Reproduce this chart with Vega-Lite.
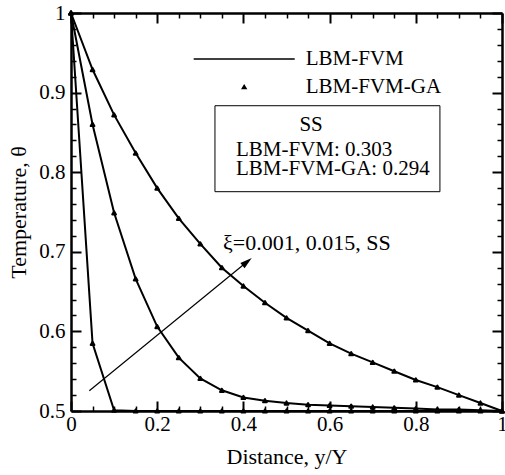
{
  "$schema": "https://vega.github.io/schema/vega-lite/v6.json",
  "width": 431,
  "height": 398,
  "autosize": {"type": "none"},
  "padding": {"left": 71, "top": 13, "right": 3, "bottom": 64},
  "config": {
    "font": "Liberation Serif",
    "view": {"stroke": null},
    "axis": {
      "grid": false,
      "labelFont": "Liberation Serif",
      "labelFontSize": 21,
      "labelColor": "black",
      "titleFont": "Liberation Serif",
      "titleFontSize": 22,
      "titleFontWeight": "normal",
      "titleColor": "black",
      "domainColor": "black",
      "tickColor": "black",
      "labelFlush": false,
      "labelOverlap": false,
      "labelBound": false
    }
  },
  "data": {
    "values": [
      {"xi": "0.001", "d": 0.0, "LBM-FVM": 1.0, "LBM-FVM-GA": 1.0},
      {"xi": "0.001", "d": 0.05, "LBM-FVM": 0.585, "LBM-FVM-GA": 0.585},
      {"xi": "0.001", "d": 0.1, "LBM-FVM": 0.501, "LBM-FVM-GA": 0.501},
      {"xi": "0.001", "d": 0.15, "LBM-FVM": 0.5, "LBM-FVM-GA": 0.5},
      {"xi": "0.001", "d": 0.2, "LBM-FVM": 0.5, "LBM-FVM-GA": 0.5},
      {"xi": "0.001", "d": 0.25, "LBM-FVM": 0.5, "LBM-FVM-GA": 0.5},
      {"xi": "0.001", "d": 0.3, "LBM-FVM": 0.5, "LBM-FVM-GA": 0.5},
      {"xi": "0.001", "d": 0.35, "LBM-FVM": 0.5, "LBM-FVM-GA": 0.5},
      {"xi": "0.001", "d": 0.4, "LBM-FVM": 0.5, "LBM-FVM-GA": 0.5},
      {"xi": "0.001", "d": 0.45, "LBM-FVM": 0.5, "LBM-FVM-GA": 0.5},
      {"xi": "0.001", "d": 0.5, "LBM-FVM": 0.5, "LBM-FVM-GA": 0.5},
      {"xi": "0.001", "d": 0.55, "LBM-FVM": 0.5, "LBM-FVM-GA": 0.5},
      {"xi": "0.001", "d": 0.6, "LBM-FVM": 0.5, "LBM-FVM-GA": 0.5},
      {"xi": "0.001", "d": 0.65, "LBM-FVM": 0.5, "LBM-FVM-GA": 0.5},
      {"xi": "0.001", "d": 0.7, "LBM-FVM": 0.5, "LBM-FVM-GA": 0.5},
      {"xi": "0.001", "d": 0.75, "LBM-FVM": 0.5, "LBM-FVM-GA": 0.5},
      {"xi": "0.001", "d": 0.8, "LBM-FVM": 0.5, "LBM-FVM-GA": 0.5},
      {"xi": "0.001", "d": 0.85, "LBM-FVM": 0.5, "LBM-FVM-GA": 0.5},
      {"xi": "0.001", "d": 0.9, "LBM-FVM": 0.5, "LBM-FVM-GA": 0.5},
      {"xi": "0.001", "d": 0.95, "LBM-FVM": 0.5, "LBM-FVM-GA": 0.5},
      {"xi": "0.001", "d": 1.0, "LBM-FVM": 0.5, "LBM-FVM-GA": 0.5},
      {"xi": "0.015", "d": 0.0, "LBM-FVM": 1.0, "LBM-FVM-GA": 1.0},
      {"xi": "0.015", "d": 0.05, "LBM-FVM": 0.86, "LBM-FVM-GA": 0.86},
      {"xi": "0.015", "d": 0.1, "LBM-FVM": 0.749, "LBM-FVM-GA": 0.749},
      {"xi": "0.015", "d": 0.15, "LBM-FVM": 0.666, "LBM-FVM-GA": 0.666},
      {"xi": "0.015", "d": 0.2, "LBM-FVM": 0.606, "LBM-FVM-GA": 0.606},
      {"xi": "0.015", "d": 0.25, "LBM-FVM": 0.567, "LBM-FVM-GA": 0.567},
      {"xi": "0.015", "d": 0.3, "LBM-FVM": 0.541, "LBM-FVM-GA": 0.541},
      {"xi": "0.015", "d": 0.35, "LBM-FVM": 0.526, "LBM-FVM-GA": 0.526},
      {"xi": "0.015", "d": 0.4, "LBM-FVM": 0.517, "LBM-FVM-GA": 0.517},
      {"xi": "0.015", "d": 0.45, "LBM-FVM": 0.513, "LBM-FVM-GA": 0.513},
      {"xi": "0.015", "d": 0.5, "LBM-FVM": 0.51, "LBM-FVM-GA": 0.51},
      {"xi": "0.015", "d": 0.55, "LBM-FVM": 0.508, "LBM-FVM-GA": 0.508},
      {"xi": "0.015", "d": 0.6, "LBM-FVM": 0.507, "LBM-FVM-GA": 0.507},
      {"xi": "0.015", "d": 0.65, "LBM-FVM": 0.506, "LBM-FVM-GA": 0.506},
      {"xi": "0.015", "d": 0.7, "LBM-FVM": 0.505, "LBM-FVM-GA": 0.505},
      {"xi": "0.015", "d": 0.75, "LBM-FVM": 0.504, "LBM-FVM-GA": 0.504},
      {"xi": "0.015", "d": 0.8, "LBM-FVM": 0.503, "LBM-FVM-GA": 0.503},
      {"xi": "0.015", "d": 0.85, "LBM-FVM": 0.502, "LBM-FVM-GA": 0.502},
      {"xi": "0.015", "d": 0.9, "LBM-FVM": 0.502, "LBM-FVM-GA": 0.502},
      {"xi": "0.015", "d": 0.95, "LBM-FVM": 0.501, "LBM-FVM-GA": 0.501},
      {"xi": "0.015", "d": 1.0, "LBM-FVM": 0.5, "LBM-FVM-GA": 0.5},
      {"xi": "SS", "d": 0.0, "LBM-FVM": 1.0, "LBM-FVM-GA": 1.0},
      {"xi": "SS", "d": 0.05, "LBM-FVM": 0.929, "LBM-FVM-GA": 0.929},
      {"xi": "SS", "d": 0.1, "LBM-FVM": 0.872, "LBM-FVM-GA": 0.872},
      {"xi": "SS", "d": 0.15, "LBM-FVM": 0.824, "LBM-FVM-GA": 0.824},
      {"xi": "SS", "d": 0.2, "LBM-FVM": 0.78, "LBM-FVM-GA": 0.78},
      {"xi": "SS", "d": 0.25, "LBM-FVM": 0.742, "LBM-FVM-GA": 0.742},
      {"xi": "SS", "d": 0.3, "LBM-FVM": 0.71, "LBM-FVM-GA": 0.71},
      {"xi": "SS", "d": 0.35, "LBM-FVM": 0.68, "LBM-FVM-GA": 0.68},
      {"xi": "SS", "d": 0.4, "LBM-FVM": 0.657, "LBM-FVM-GA": 0.657},
      {"xi": "SS", "d": 0.45, "LBM-FVM": 0.636, "LBM-FVM-GA": 0.636},
      {"xi": "SS", "d": 0.5, "LBM-FVM": 0.617, "LBM-FVM-GA": 0.617},
      {"xi": "SS", "d": 0.55, "LBM-FVM": 0.601, "LBM-FVM-GA": 0.601},
      {"xi": "SS", "d": 0.6, "LBM-FVM": 0.585, "LBM-FVM-GA": 0.585},
      {"xi": "SS", "d": 0.65, "LBM-FVM": 0.572, "LBM-FVM-GA": 0.572},
      {"xi": "SS", "d": 0.7, "LBM-FVM": 0.561, "LBM-FVM-GA": 0.561},
      {"xi": "SS", "d": 0.75, "LBM-FVM": 0.55, "LBM-FVM-GA": 0.55},
      {"xi": "SS", "d": 0.8, "LBM-FVM": 0.539, "LBM-FVM-GA": 0.539},
      {"xi": "SS", "d": 0.85, "LBM-FVM": 0.53, "LBM-FVM-GA": 0.53},
      {"xi": "SS", "d": 0.9, "LBM-FVM": 0.52, "LBM-FVM-GA": 0.52},
      {"xi": "SS", "d": 0.95, "LBM-FVM": 0.51, "LBM-FVM-GA": 0.51},
      {"xi": "SS", "d": 1.0, "LBM-FVM": 0.5, "LBM-FVM-GA": 0.5}
    ]
  },
  "layer": [
    {
      "transform": [
        {"fold": ["LBM-FVM", "LBM-FVM-GA"], "as": ["method", "theta"]},
        {"filter": "datum.method === 'LBM-FVM'"}
      ],
      "mark": {"type": "line", "color": "black", "strokeWidth": 2},
      "encoding": {
        "x": {
          "field": "d", "type": "quantitative",
          "scale": {"domain": [0, 1], "nice": false, "zero": false},
          "axis": {"orient": "bottom", "title": "Distance, y/Y", "values": [0, 0.2, 0.4, 0.6, 0.8, 1], "format": "~g", "ticks": false, "domainWidth": 2.5, "labelPadding": 2, "titlePadding": 12}
        },
        "y": {
          "field": "theta", "type": "quantitative",
          "scale": {"domain": [0.5, 1], "nice": false, "zero": false},
          "axis": {"orient": "left", "title": "Temperature, θ", "values": [0.5, 0.6, 0.7, 0.8, 0.9, 1], "format": "~g", "ticks": false, "domainWidth": 2.5, "labelPadding": 6, "titlePadding": 8}
        },
        "detail": {"field": "xi"}
      }
    },
    {
      "transform": [
        {"fold": ["LBM-FVM", "LBM-FVM-GA"], "as": ["method", "theta"]},
        {"filter": "datum.method === 'LBM-FVM-GA'"}
      ],
      "mark": {"type": "point", "filled": true, "color": "black", "stroke": "black", "strokeWidth": 2, "strokeJoin": "round", "opacity": 1},
      "encoding": {
        "x": {
          "field": "d", "type": "quantitative",
          "axis": {"orient": "bottom", "title": null, "values": [0, 0.2, 0.4, 0.6, 0.8, 1], "labels": false, "domain": false, "tickSize": -10, "tickWidth": 2}
        },
        "y": {
          "field": "theta", "type": "quantitative",
          "axis": {"orient": "left", "title": null, "values": [0.5, 0.6, 0.7, 0.8, 0.9, 1], "labels": false, "domain": false, "tickSize": -10, "tickWidth": 2}
        },
        "shape": {
          "field": "method", "type": "nominal",
          "scale": {"domain": ["LBM-FVM", "LBM-FVM-GA"], "range": ["stroke", "triangle-up"]},
          "legend": {
            "title": null, "orient": "none", "legendX": 121.7, "legendY": 36, "padding": 0,
            "clipHeight": 20, "rowPadding": 7, "labelOffset": 10,
            "labelFont": "Liberation Serif", "labelFontSize": 21, "labelColor": "black", "labelLimit": 0
          }
        },
        "size": {
          "field": "method", "type": "nominal",
          "scale": {"domain": ["LBM-FVM", "LBM-FVM-GA"], "range": [10201, 14]},
          "legend": {
            "title": null, "orient": "none", "legendX": 121.7, "legendY": 36, "padding": 0,
            "clipHeight": 20, "rowPadding": 7, "labelOffset": 10,
            "labelFont": "Liberation Serif", "labelFontSize": 21, "labelColor": "black", "labelLimit": 0
          }
        }
      }
    },
    {
      "data": {"values": [{}]},
      "mark": {"type": "rule", "color": "black", "strokeWidth": 1.2},
      "encoding": {
        "x": {"datum": 0.0425, "type": "quantitative",
          "axis": {"orient": "bottom", "title": null, "values": [0.05, 0.1, 0.15, 0.25, 0.3, 0.35, 0.45, 0.5, 0.55, 0.65, 0.7, 0.75, 0.85, 0.9, 0.95], "labels": false, "domain": false, "tickSize": -5, "tickWidth": 1.5}},
        "y": {"datum": 0.5255, "type": "quantitative",
          "axis": {"orient": "left", "title": null, "values": [0.52, 0.54, 0.56, 0.58, 0.62, 0.64, 0.66, 0.68, 0.72, 0.74, 0.76, 0.78, 0.82, 0.84, 0.86, 0.88, 0.92, 0.94, 0.96, 0.98], "labels": false, "domain": false, "tickSize": -5, "tickWidth": 1.5}},
        "x2": {"datum": 0.4086},
        "y2": {"datum": 0.6874}
      }
    },
    {
      "data": {"values": [{}]},
      "mark": {"type": "rect", "filled": false, "stroke": "black", "strokeWidth": 1},
      "encoding": {
        "x": {"datum": 0.334, "type": "quantitative",
          "axis": {"orient": "top", "title": null, "values": [0, 0.2, 0.4, 0.6, 0.8, 1], "labels": false, "domainWidth": 2.5, "tickSize": -10, "tickWidth": 2}},
        "y": {"datum": 0.8835, "type": "quantitative",
          "axis": {"orient": "right", "title": null, "values": [0.5, 0.6, 0.7, 0.8, 0.9, 1], "labels": false, "domainWidth": 2.5, "tickSize": -10, "tickWidth": 2}},
        "x2": {"datum": 0.856},
        "y2": {"datum": 0.7755}
      }
    },
    {
      "data": {"values": [{}]},
      "mark": {"type": "point", "shape": "M0,-1L0.55,1L-0.55,1Z", "filled": true, "color": "black", "opacity": 1, "size": 144, "angle": 50.7},
      "encoding": {
        "x": {"datum": 0.4086, "type": "quantitative",
          "axis": {"orient": "top", "title": null, "values": [0.05, 0.1, 0.15, 0.25, 0.3, 0.35, 0.45, 0.5, 0.55, 0.65, 0.7, 0.75, 0.85, 0.9, 0.95], "labels": false, "domain": false, "tickSize": -5, "tickWidth": 1.5}},
        "y": {"datum": 0.6874, "type": "quantitative",
          "axis": {"orient": "right", "title": null, "values": [0.52, 0.54, 0.56, 0.58, 0.62, 0.64, 0.66, 0.68, 0.72, 0.74, 0.76, 0.78, 0.82, 0.84, 0.86, 0.88, 0.92, 0.94, 0.96, 0.98], "labels": false, "domain": false, "tickSize": -5, "tickWidth": 1.5}}
      }
    },
    {
      "data": {"values": [{}]},
      "mark": {"type": "text", "text": "ξ=0.001, 0.015, SS", "align": "left", "baseline": "alphabetic", "fontSize": 22, "font": "Liberation Serif", "color": "black"},
      "encoding": {
        "x": {"datum": 0.3527, "type": "quantitative", "axis": null},
        "y": {"datum": 0.7026, "type": "quantitative", "axis": null}
      }
    },
    {
      "data": {"values": [{}]},
      "mark": {"type": "text", "text": "SS", "align": "center", "baseline": "alphabetic", "fontSize": 21, "font": "Liberation Serif", "color": "black"},
      "encoding": {
        "x": {"datum": 0.557, "type": "quantitative", "axis": null},
        "y": {"datum": 0.8513, "type": "quantitative", "axis": null}
      }
    },
    {
      "data": {"values": [{}]},
      "mark": {"type": "text", "text": "LBM-FVM: 0.303", "align": "left", "baseline": "alphabetic", "fontSize": 21, "font": "Liberation Serif", "color": "black"},
      "encoding": {
        "x": {"datum": 0.3828, "type": "quantitative", "axis": null},
        "y": {"datum": 0.8207, "type": "quantitative", "axis": null}
      }
    },
    {
      "data": {"values": [{}]},
      "mark": {"type": "text", "text": "LBM-FVM-GA: 0.294", "align": "left", "baseline": "alphabetic", "fontSize": 21, "font": "Liberation Serif", "color": "black"},
      "encoding": {
        "x": {"datum": 0.3828, "type": "quantitative", "axis": null},
        "y": {"datum": 0.7969, "type": "quantitative", "axis": null}
      }
    }
  ],
  "resolve": {"axis": {"x": "independent", "y": "independent"}}
}
